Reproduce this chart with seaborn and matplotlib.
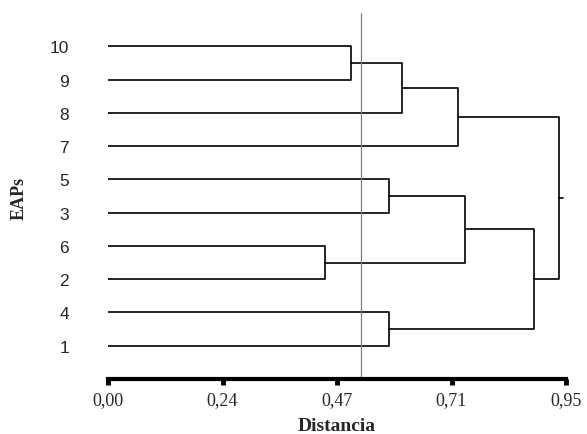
import pandas as pd
import matplotlib
matplotlib.use("Agg")
import matplotlib.pyplot as plt
import seaborn as sns

# Leaves, top to bottom
leaf_order = ["10", "9", "8", "7", "5", "3", "6", "2", "4", "1"]

# Merges: clusters C1..C9 are created in this order
merge_left = ["10", "C1", "C2", "5", "6", "C4", "4", "C6", "C3"]
merge_right = ["9", "8", "7", "3", "2", "C5", "1", "C7", "C8"]
merge_dist = [0.505, 0.609, 0.725, 0.582, 0.451, 0.741, 0.582, 0.884, 0.936]

cut_dist = 0.525
x_ticks = [0.0, 0.2375, 0.475, 0.7125, 0.95]
x_tick_labels = ["0,00", "0,24", "0,47", "0,71", "0,95"]

# Build the dendrogram segments
n = len(leaf_order)
pos = {lab: n - i for i, lab in enumerate(leaf_order)}
height = {lab: 0.0 for lab in leaf_order}

rows = []
for k, (a, b, d) in enumerate(zip(merge_left, merge_right, merge_dist)):
    name = f"C{k + 1}"
    pts = [(height[a], pos[a]), (d, pos[a]), (d, pos[b]), (height[b], pos[b])]
    for x, y in pts:
        rows.append({"seg": name, "x": x, "y": y})
    pos[name] = (pos[a] + pos[b]) / 2
    height[name] = d

# small stub at the root
root = f"C{len(merge_dist)}"
rows.append({"seg": "root", "x": height[root], "y": pos[root]})
rows.append({"seg": "root", "x": height[root] + 0.007, "y": pos[root]})

segs = pd.DataFrame(rows)

sns.set_style("white")

fig = plt.figure(figsize=(5.87, 4.35), dpi=100)
ax = fig.add_axes([108 / 587, 55 / 435, 458 / 587, 366 / 435])

sns.lineplot(data=segs, x="x", y="y", units="seg", estimator=None, sort=False,
             color="black", linewidth=1.2, ax=ax, legend=False)

ax.axvline(cut_dist, color="#7f7f7f", linewidth=0.9)

ax.set_xlim(0, 0.95)
ax.set_ylim(0, 11)

ax.set_yticks([n - i for i in range(n)])
ax.set_yticklabels(leaf_order, family="Liberation Sans", fontsize=12.5)
ax.tick_params(axis="y", left=False, length=0, pad=28)

ax.set_xticks(x_ticks)
ax.set_xticklabels(x_tick_labels, family="Liberation Serif", fontsize=13)
ax.tick_params(axis="x", bottom=True, direction="out", length=4, width=3.5,
               color="black", pad=5)

for s in ["left", "top", "right"]:
    ax.spines[s].set_visible(False)
ax.spines["bottom"].set_linewidth(3)
ax.spines["bottom"].set_color("black")

ax.set_xlabel("Distancia", family="Liberation Serif", fontweight="bold", fontsize=14, labelpad=6)
ax.set_ylabel("")
fig.text(19.5 / 587, 1 - 198 / 435, "EAPs", rotation=90, ha="center", va="center",
         family="Liberation Serif", fontweight="bold", fontsize=13)

fig.savefig("out.png", dpi=100)
